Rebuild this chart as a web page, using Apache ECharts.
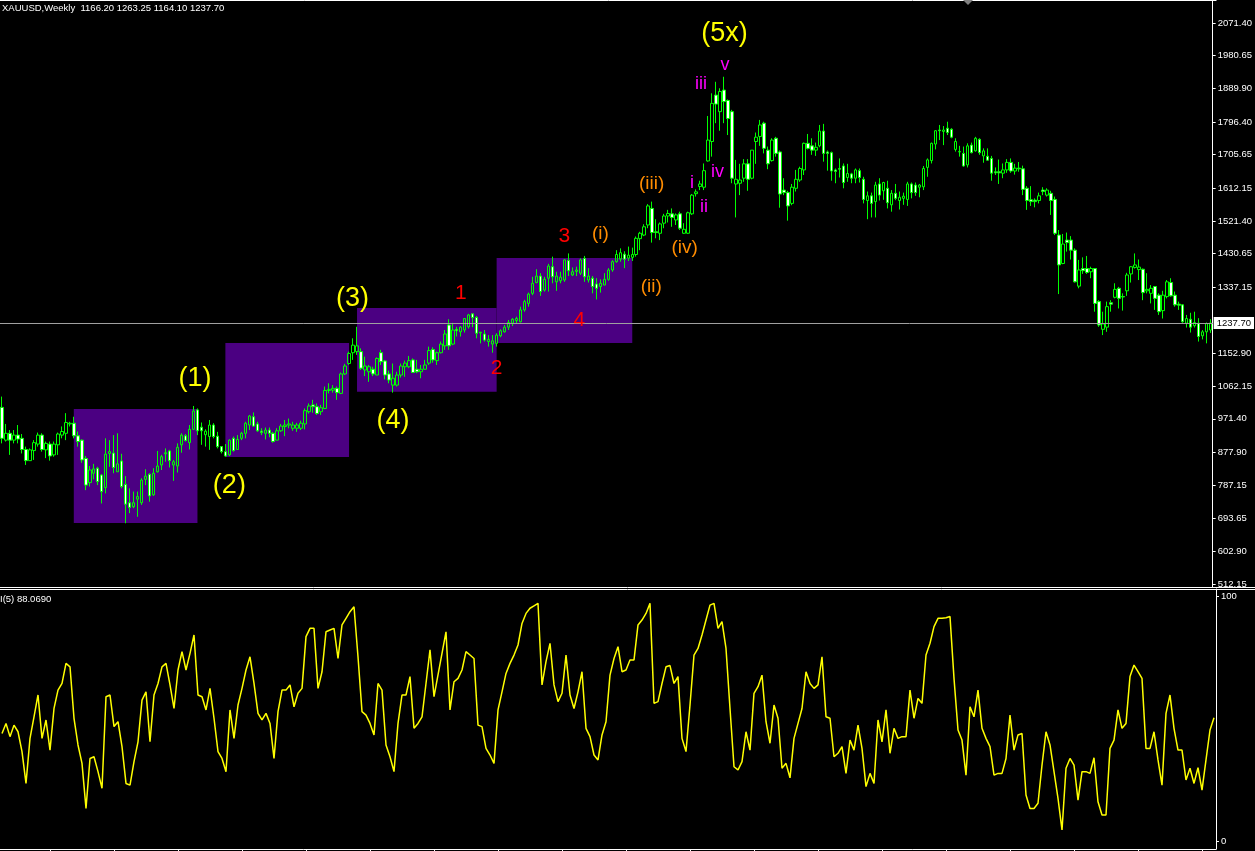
<!DOCTYPE html>
<html><head><meta charset="utf-8">
<script src="https://cdn.jsdelivr.net/npm/echarts@6/dist/echarts.min.js"></script>
<style>html,body{margin:0;padding:0;background:#000;overflow:hidden}#c{width:1255px;height:851px}</style>
</head><body><div id="c"></div>
<script>
// ---------- DATA (weekly XAUUSD) ----------
const opens = [1003,912,931,912,926,917,886,855,883,901,
926,885,901,871,899,926,931,957,959,924,
912,861,794,820,834,815,780,875,876,824,
854,789,738,727,748,738,803,817,760,824,
843,874,882,843,840,899,924,905,942,996,
948,927,922,954,923,894,880,871,917,886,
917,931,954,977,957,937,931,940,931,912,
938,950,954,945,945,945,957,991,1010,1005,
991,1000,1050,1051,1056,1042,1096,1125,1155,1158,
1158,1107,1102,1109,1093,1155,1132,1096,1065,1065,
1093,1116,1116,1135,1109,1102,1109,1126,1164,1133,
1155,1174,1232,1179,1220,1213,1218,1227,1263,1253,
1210,1207,1186,1179,1181,1202,1213,1226,1237,1244,
1241,1274,1292,1320,1350,1368,1329,1362,1394,1352,
1355,1357,1411,1371,1381,1376,1417,1357,1362,1346,
1339,1343,1359,1385,1408,1415,1429,1418,1420,1428,
1472,1482,1510,1556,1491,1487,1515,1535,1541,1524,
1541,1487,1487,1541,1597,1617,1615,1688,1742,1871,
1825,1885,1856,1825,1624,1626,1640,1680,1640,1742,
1756,1793,1718,1689,1751,1713,1607,1600,1570,1612,
1635,1663,1737,1730,1718,1730,1771,1713,1711,1663,
1667,1674,1642,1652,1640,1661,1637,1578,1591,1575,
1624,1605,1612,1566,1598,1578,1584,1581,1624,1621,
1615,1616,1670,1689,1735,1774,1770,1779,1776,1720,
1713,1709,1677,1732,1716,1748,1702,1701,1695,1658,
1658,1654,1663,1684,1660,1668,1666,1612,1580,1579,
1578,1607,1593,1598,1581,1482,1403,1468,1468,1440,
1340,1389,1389,1380,1389,1297,1220,1226,1294,1309,
1334,1311,1327,1374,1392,1386,1387,1327,1320,1339,
1315,1272,1311,1350,1315,1290,1288,1237,1248,1230,
1237,1202,1213,1218];
const highs = [1033,957,940,940,954,929,894,889,912,933,
931,908,908,908,933,950,987,963,977,936,
914,868,840,846,838,818,917,912,926,931,
874,812,778,769,769,806,831,820,834,882,
871,889,885,857,903,931,929,954,1007,1000,
961,942,968,959,935,895,901,914,922,926,
935,963,982,989,963,945,947,947,935,945,
957,968,972,963,960,966,1000,1014,1024,1014,
1010,1061,1070,1065,1061,1100,1124,1158,1195,1227,
1167,1144,1121,1116,1142,1163,1135,1105,1125,1102,
1125,1133,1146,1139,1135,1121,1135,1172,1170,1158,
1186,1218,1248,1238,1227,1229,1250,1263,1264,1257,
1213,1218,1204,1204,1209,1220,1232,1246,1251,1255,
1283,1302,1322,1366,1387,1376,1366,1402,1422,1380,
1380,1415,1431,1392,1394,1417,1424,1390,1368,1362,
1359,1376,1390,1412,1440,1445,1437,1450,1447,1478,
1491,1512,1568,1575,1526,1517,1541,1552,1556,1542,
1547,1515,1547,1596,1609,1633,1681,1813,1876,1908,
1890,1922,1859,1830,1691,1680,1693,1693,1718,1767,
1802,1797,1728,1751,1755,1717,1640,1605,1624,1663,
1672,1739,1763,1751,1739,1788,1791,1717,1714,1667,
1695,1681,1680,1655,1667,1667,1644,1603,1600,1630,
1640,1630,1633,1607,1624,1603,1600,1630,1628,1628,
1624,1674,1695,1739,1774,1788,1785,1797,1779,1751,
1730,1728,1737,1739,1755,1751,1723,1723,1702,1670,
1692,1681,1693,1695,1680,1685,1675,1618,1618,1584,
1600,1615,1612,1605,1589,1496,1485,1489,1479,1445,
1413,1420,1424,1394,1389,1301,1269,1297,1301,1348,
1338,1320,1377,1396,1431,1414,1389,1376,1343,1340,
1320,1327,1357,1362,1325,1297,1290,1260,1266,1269,
1251,1218,1239,1248];
const lows = [903,908,871,903,903,875,843,855,857,894,
880,862,855,866,871,917,912,950,917,894,
849,773,783,803,787,736,764,838,820,824,
778,681,709,723,699,732,787,741,757,822,
829,852,836,799,822,877,908,886,940,926,
899,894,885,917,889,875,866,868,880,886,
912,917,940,949,935,926,914,920,905,912,
935,923,945,938,935,940,942,986,988,982,
982,998,1042,1044,1024,1040,1093,1121,1135,1149,
1107,1090,1074,1090,1093,1121,1081,1070,1044,1061,
1086,1088,1112,1100,1098,1084,1107,1121,1127,1121,
1153,1163,1163,1176,1200,1200,1211,1222,1226,1195,
1181,1186,1172,1155,1172,1198,1211,1218,1229,1237,
1239,1269,1283,1315,1348,1313,1325,1325,1348,1327,
1348,1352,1368,1368,1368,1371,1352,1350,1320,1303,
1322,1343,1355,1380,1405,1408,1390,1410,1410,1422,
1440,1479,1501,1461,1473,1468,1501,1517,1505,1510,
1496,1485,1485,1538,1589,1607,1607,1686,1700,1793,
1772,1793,1760,1626,1531,1593,1630,1605,1637,1680,
1730,1709,1665,1686,1700,1558,1593,1522,1565,1603,
1630,1649,1720,1705,1702,1726,1686,1661,1633,1626,
1642,1612,1630,1626,1626,1628,1570,1526,1531,1531,
1578,1580,1556,1547,1579,1553,1566,1563,1584,1591,
1587,1607,1644,1681,1720,1746,1732,1760,1751,1714,
1700,1672,1670,1709,1714,1705,1683,1690,1633,1649,
1624,1640,1655,1655,1650,1658,1593,1552,1563,1559,
1570,1593,1589,1538,1482,1318,1401,1436,1414,1350,
1334,1374,1374,1362,1269,1227,1204,1213,1269,1306,
1278,1272,1313,1350,1389,1357,1301,1320,1292,1274,
1260,1250,1306,1311,1283,1274,1238,1225,1211,1225,
1186,1192,1181,1210];
const closes = [917,931,912,926,915,886,855,885,905,926,
886,903,868,901,929,936,961,959,924,908,
857,787,829,832,797,769,873,880,836,846,
783,734,725,738,755,801,812,757,820,840,
866,877,855,852,892,926,911,942,993,938,
938,937,954,922,894,880,868,912,883,914,
931,959,979,951,938,933,940,931,908,938,
951,954,957,954,954,959,994,1007,1005,986,
1002,1050,1053,1056,1044,1096,1118,1153,1176,1174,
1112,1118,1116,1096,1139,1130,1093,1079,1084,1093,
1118,1126,1133,1100,1102,1109,1121,1161,1135,1155,
1179,1207,1174,1218,1216,1226,1250,1260,1253,1209,
1212,1190,1192,1188,1204,1216,1226,1239,1248,1250,
1274,1297,1318,1348,1368,1325,1359,1396,1366,1368,
1365,1413,1383,1380,1385,1413,1366,1368,1339,1334,
1348,1359,1385,1408,1428,1433,1415,1426,1428,1473,
1487,1505,1563,1489,1489,1513,1535,1542,1531,1538,
1501,1498,1544,1593,1602,1624,1661,1746,1848,1846,
1881,1853,1806,1640,1637,1635,1680,1637,1718,1754,
1788,1723,1680,1746,1709,1596,1600,1563,1615,1637,
1667,1737,1723,1718,1726,1771,1709,1709,1660,1659,
1665,1628,1653,1640,1663,1642,1581,1591,1570,1621,
1593,1628,1572,1598,1584,1587,1590,1624,1600,1600,
1621,1667,1691,1737,1772,1772,1774,1767,1754,1742,
1714,1674,1730,1711,1751,1711,1716,1690,1654,1655,
1655,1663,1684,1660,1668,1666,1609,1578,1575,1575,
1591,1603,1607,1578,1487,1399,1457,1461,1440,1352,
1385,1383,1378,1389,1292,1232,1235,1283,1290,1331,
1306,1310,1371,1394,1399,1393,1322,1331,1334,1306,
1269,1315,1352,1313,1288,1287,1241,1250,1226,1239,
1200,1213,1236,1237.7];
const rsi5 = [44.1,48.2,42.8,47.5,44.8,36.7,23.7,42.1,50.9,59.8,
42.1,49.6,37.3,54.3,61.8,64.5,72.7,71.3,50.3,39.4,
31.9,13.5,33.9,34.6,28.5,21.7,59.1,59.8,46.9,48.9,
38.7,23.7,23.0,32.6,40.7,57.7,61.1,40.7,59.8,64.5,
71.3,72.7,63.9,54.3,70.0,77.5,70.0,76.8,84.3,59.8,
59.1,53.7,62.5,50.3,36.7,33.9,28.5,53.7,42.1,55.7,
62.5,70.0,75.4,64.5,52.3,49.6,52.3,48.2,33.9,53.0,
61.8,61.8,63.9,55.0,60.5,62.5,83.6,87.0,87.0,62.5,
69.3,85.6,86.3,87.0,74.7,88.4,91.1,93.8,95.8,75.4,
53.0,51.6,48.2,43.5,64.5,61.8,39.4,34.6,28.5,48.2,
59.8,59.8,67.3,46.2,48.2,50.9,64.5,78.2,59.1,68.0,
76.8,85.6,53.7,65.2,66.6,70.0,77.5,76.1,74.7,47.5,
46.9,38.0,35.3,31.9,53.7,61.1,68.6,72.7,76.1,80.2,
89.0,93.1,95.2,96.2,97.2,63.9,73.4,80.9,63.9,57.1,
60.5,76.1,59.8,54.3,61.1,69.3,46.2,42.8,35.3,33.3,
43.5,48.9,67.9,74.7,79.5,69.3,70.0,74.1,74.1,88.4,
90.4,93.1,97.2,56.4,57.1,64.5,71.3,71.8,64.5,67.3,
42.1,36.7,55.7,76.1,78.8,84.3,90.4,96.5,97.2,87.0,
89.7,78.8,54.3,30.5,29.2,32.6,44.8,37.3,60.5,63.2,
67.9,48.9,40.1,55.7,50.3,29.9,31.9,26.0,42.1,48.2,
54.3,69.3,64.5,62.5,63.9,75.4,50.9,50.3,34.6,36.0,
38.7,27.8,41.4,37.3,47.5,38.0,22.4,27.8,23.7,49.6,
40.7,53.7,36.0,46.2,42.1,42.8,42.8,61.8,50.3,58.4,
56.4,76.1,80.9,87.7,91.1,91.1,91.3,91.8,66.6,45.5,
41.4,27.1,55.0,50.9,61.8,46.2,42.1,38.7,27.1,27.8,
27.8,33.9,51.6,37.3,43.5,44.1,19.0,13.5,13.5,15.6,
31.2,44.8,39.4,28.5,17.6,4.7,29.9,33.9,31.2,16.9,
28.5,28.5,27.8,34.2,16.2,10.8,10.8,38.0,41.4,53.7,
46.2,48.2,67.3,72.0,69.3,66.6,38.0,38.0,44.8,33.3,
23.0,52.3,59.8,46.2,37.3,37.3,25.1,29.9,23.7,30.1,
21.0,33.3,45.5,50.5];
const priceTicks = [512.15,602.90,693.65,787.15,877.90,971.40,1062.15,1152.90,1337.15,1430.65,1521.40,1612.15,1705.65,1796.40,1889.90,1980.65,2071.40];
const rsiTicks = [0, 100];
const lastPrice = 1237.70;
// boxes: [fromBar, toBar, upperPrice, lowerPrice]
const zones = [[18,49,998.6,681.7],[56,87,1182.0,865.1],[89,124,1279.3,1046.6],[124,158,1418.3,1182.0]];
// wave labels: [bar, price, text, degree]
const waveLabels = [
 [48.375,1083.6,'(1)','primary'],[57,786.2,'(2)','primary'],[87.875,1305.9,'(3)','primary'],[98,965.5,'(4)','primary'],[181.125,2042.5,'(5x)','primary'],
 [115,1321.0,'1','intermediate'],[124,1111.1,'2','intermediate'],[141,1478.0,'3','intermediate'],[144.75,1245.9,'4','intermediate'],
 [150,1485.8,'(i)','minor'],[162.75,1337.1,'(ii)','minor'],[162.875,1623.4,'(iii)','minor'],[171.125,1446.9,'(iv)','minor'],
 [173,1626.7,'i','minute'],[176,1558.6,'ii','minute'],[175.25,1900.5,'iii','minute'],[179.375,1657.3,'iv','minute'],[181.25,1954.7,'v','minute']
];
const titleText = 'XAUUSD,Weekly  1166.20 1263.25 1164.10 1237.70';
const indicatorText = 'I(5) 88.0690';

// ---------- CHART ----------
const N = closes.length;
const cats = Array.from({length: N}, (_, i) => String(i));
const candles = closes.map((c, i) => [opens[i], c, lows[i], highs[i]]);
const degreeStyle = {
  primary: {color: '#ffff00', fontSize: 27},
  intermediate: {color: '#ff0000', fontSize: 21},
  minor: {color: '#ff8c00', fontSize: 19},
  minute: {color: '#ff00ff', fontSize: 18}
};
const FONT = '"Liberation Sans", Arial, sans-serif';
const chart = echarts.init(document.getElementById('c'), null, {renderer: 'canvas'});
chart.setOption({
  backgroundColor: '#000',
  animation: false,
  grid: [
    {left: 0, top: 1, width: 1216, height: 586},
    {left: 0, top: 589, width: 1216, height: 260}
  ],
  xAxis: [
    {type: 'category', gridIndex: 0, data: cats, boundaryGap: true, axisLine: {show: false}, axisTick: {show: false}, axisLabel: {show: false}, splitLine: {show: false}},
    {type: 'value', gridIndex: 0, min: -0.5, max: N - 0.5, show: false},
    {type: 'category', gridIndex: 1, data: cats, boundaryGap: true,
      axisLine: {show: true, onZero: false, lineStyle: {color: '#fff', width: 1}},
      axisTick: {show: true, alignWithLabel: true, length: 3, lineStyle: {color: '#fff'}, interval: (idx) => (idx - 12) % 16 === 0},
      axisLabel: {show: false}, splitLine: {show: false}}
  ],
  yAxis: [
    {type: 'value', gridIndex: 0, position: 'right', min: 503.8, max: 2132.55,
      axisLine: {show: true, onZero: false, lineStyle: {color: '#fff', width: 1}},
      axisTick: {show: true, length: 3, lineStyle: {color: '#fff'}, customValues: priceTicks},
      axisLabel: {show: true, color: '#fff', fontFamily: FONT, fontSize: 9.5, margin: 5, customValues: priceTicks, formatter: v => Number(v).toFixed(2)},
      splitLine: {show: false}},
    {type: 'value', gridIndex: 1, position: 'right', min: -3.06, max: 103.06,
      axisLine: {show: true, onZero: false, lineStyle: {color: '#fff', width: 1}},
      axisTick: {show: true, length: 3, lineStyle: {color: '#fff'}, customValues: rsiTicks},
      axisLabel: {show: true, color: '#fff', fontFamily: FONT, fontSize: 9.5, margin: 5, customValues: rsiTicks, formatter: v => String(Math.round(v))},
      splitLine: {show: false}}
  ],
  series: [
    {
      type: 'custom', name: 'zones', xAxisIndex: 1, yAxisIndex: 0, z: 1, silent: true,
      data: zones,
      encode: {x: [0, 1], y: [2, 3]},
      renderItem: (params, api) => {
        const p1 = api.coord([api.value(0), api.value(2)]);
        const p2 = api.coord([api.value(1), api.value(3)]);
        return {type: 'rect', shape: {x: p1[0], y: p1[1], width: p2[0] - p1[0], height: p2[1] - p1[1]}, style: {fill: '#4b0082'}};
      }
    },
    {
      type: 'candlestick', name: 'XAUUSD', xAxisIndex: 0, yAxisIndex: 0, z: 3,
      data: candles, barWidth: 3,
      itemStyle: {color: 'rgba(0,0,0,0)', color0: '#ffffff', borderColor: '#00ff00', borderColor0: '#00ff00', borderWidth: 1},
      markLine: {
        silent: true, symbol: ['none', 'none'], animation: false,
        lineStyle: {color: '#a0a0a0', type: 'solid', width: 1},
        label: {show: true, position: 'end', distance: 1, formatter: () => lastPrice.toFixed(2), color: '#000', backgroundColor: '#fff', padding: [1, 3, 1, 3], fontFamily: FONT, fontSize: 9.5},
        data: [{yAxis: lastPrice}]
      }
    },
    {
      type: 'custom', name: 'waves', xAxisIndex: 1, yAxisIndex: 0, z: 5, silent: true,
      data: waveLabels.map(w => [w[0], w[1]]),
      encode: {x: 0, y: 1},
      renderItem: (params, api) => {
        const w = waveLabels[params.dataIndex];
        const st = degreeStyle[w[3]];
        const p = api.coord([api.value(0), api.value(1)]);
        return {type: 'text', x: p[0], y: p[1], style: {text: w[2], fill: st.color, font: st.fontSize + 'px ' + FONT, align: 'center', verticalAlign: 'middle'}};
      }
    },
    {
      type: 'line', name: 'RSI(5)', xAxisIndex: 2, yAxisIndex: 1, data: rsi5, showSymbol: false, symbol: 'none',
      lineStyle: {color: '#ffff00', width: 1.5}, z: 3
    }
  ],
  graphic: [
    {type: 'line', shape: {x1: 0, y1: 0.5, x2: 1216.5, y2: 0.5}, style: {stroke: '#fff', lineWidth: 1}, silent: true},
    {type: 'line', shape: {x1: 0, y1: 587.5, x2: 1255, y2: 587.5}, style: {stroke: '#fff', lineWidth: 1}, silent: true},
    {type: 'line', shape: {x1: 0, y1: 589.5, x2: 1255, y2: 589.5}, style: {stroke: '#fff', lineWidth: 1}, silent: true},
    {type: 'polygon', shape: {points: [[963, 0], [973, 0], [968, 5]]}, style: {fill: '#808080'}, silent: true},
    {type: 'text', left: 2, top: 3, style: {text: titleText, fill: '#fff', font: '9.5px ' + FONT}, silent: true},
    {type: 'text', left: 0, top: 594, style: {text: indicatorText, fill: '#fff', font: '9.5px ' + FONT}, silent: true}
  ]
});
</script>
</body></html>
